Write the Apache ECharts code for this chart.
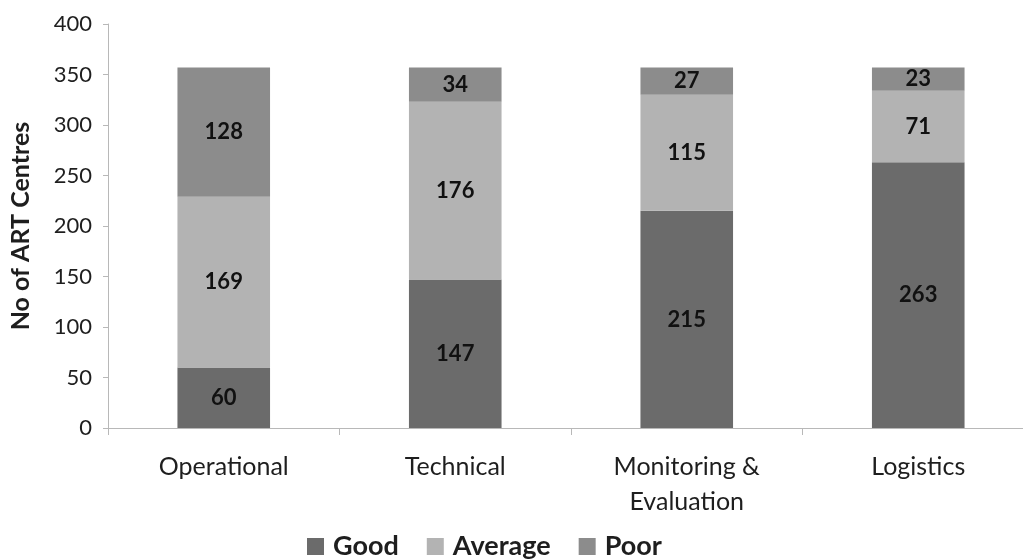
<!DOCTYPE html>
<html>
<head>
<meta charset="utf-8">
<script src="https://cdn.jsdelivr.net/npm/echarts@6/dist/echarts.min.js"></script>
<style>
html,body{margin:0;padding:0;background:#fff;overflow:hidden;}
#chart{width:1034px;height:560px;}
</style>
</head>
<body>
<div id="chart"></div>
<script>
const categories = ['Operational', 'Technical', 'Monitoring &\nEvaluation', 'Logistics'];
const good = [60, 147, 215, 263];
const average = [169, 176, 115, 71];
const poor = [128, 34, 27, 23];
const yTicks = [0, 50, 100, 150, 200, 250, 300, 350, 400];

const FONT = 'Lato';
const TXT = '#1e1e1e';
const chart = echarts.init(document.getElementById('chart'), null, {renderer: 'canvas'});

const labelStyle = {
  show: true,
  position: 'inside',
  fontFamily: FONT,
  fontWeight: 'bold',
  fontSize: 22,
  color: '#111'
};

function series(name, data, color) {
  return {
    name: name,
    type: 'bar',
    stack: 'total',
    data: data,
    barWidth: '40%',
    itemStyle: {color: color},
    label: labelStyle,
    emphasis: {disabled: true}
  };
}

chart.setOption({
  animation: false,
  backgroundColor: '#ffffff',
  grid: {left: 107, right: 0, top: 24, bottom: 132, containLabel: false},
  legend: {
    left: 302,
    top: 528,
    itemWidth: 17,
    itemHeight: 17,
    itemGap: 28,
    icon: 'rect',
    textStyle: {fontFamily: FONT, fontWeight: 'bold', fontSize: 27, color: TXT, padding: [0, 0, 0, 4]},
    data: ['Good', 'Average', 'Poor']
  },
  xAxis: {
    type: 'category',
    data: categories,
    axisLine: {lineStyle: {color: '#b8b8b8', width: 1}},
    axisTick: {show: true, length: 7, lineStyle: {color: '#b8b8b8'}},
    axisLabel: {fontFamily: FONT, fontSize: 25, color: TXT, margin: 21, lineHeight: 35, interval: 0},
    splitLine: {show: false}
  },
  yAxis: {
    type: 'value',
    min: yTicks[0],
    max: yTicks[yTicks.length - 1],
    interval: 50,
    name: 'No of ART Centres',
    nameLocation: 'middle',
    nameGap: 75,
    nameTextStyle: {fontFamily: FONT, fontWeight: 'bold', fontSize: 25, color: TXT},
    axisLine: {show: true, lineStyle: {color: '#b8b8b8', width: 1}},
    axisTick: {show: true, length: 5, lineStyle: {color: '#b8b8b8'}},
    axisLabel: {fontFamily: FONT, fontSize: 22, color: TXT, margin: 16},
    splitLine: {show: false}
  },
  series: [
    series('Good', good, '#6b6b6b'),
    series('Average', average, '#b3b3b3'),
    series('Poor', poor, '#8c8c8c')
  ]
});
</script>
</body>
</html>
